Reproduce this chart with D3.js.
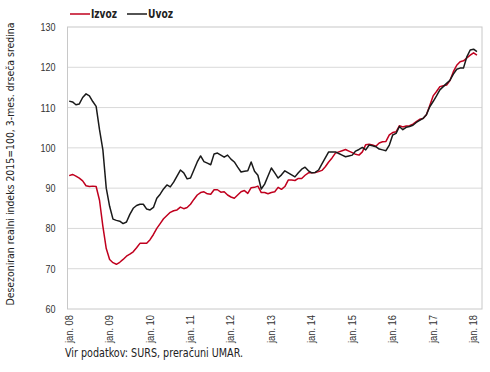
<!DOCTYPE html>
<html>
<head>
<meta charset="utf-8">
<script src="https://cdn.jsdelivr.net/npm/d3@7"></script>
<style>
  body { margin: 0; background: #fff; }
  svg { display: block; font-family: "DejaVu Sans Condensed", "Liberation Sans", sans-serif; }
</style>
</head>
<body>
<script>
'use strict';

// categories: one per month, jan 08 .. mar 18 (axis labelled only in January)
const years = ['08', '09', '10', '11', '12', '13', '14', '15', '16', '17', '18'];
const monthsInLastYear = 3;
const yTicks = [60, 70, 80, 90, 100, 110, 120, 130];

// Izvoz, monthly from jan 08
const izvoz = [
  93.1, 93.4, 93.0, 92.5, 91.8, 90.6, 90.4, 90.5, 90.4, 87.0, 80.5, 75.0,
  72.3, 71.5, 71.1, 71.6, 72.3, 73.1, 73.6, 74.2, 75.2, 76.3, 76.3, 76.3,
  77.2, 78.5, 80.0, 81.2, 82.4, 83.2, 84.0, 84.4, 84.6, 85.3, 84.9, 85.2,
  86.0, 87.2, 88.3, 88.9, 89.1, 88.6, 88.5, 89.6, 89.6, 89.0, 89.1, 88.3,
  87.8, 87.5, 88.3, 89.1, 89.4, 88.7, 90.1, 90.2, 90.5, 88.9, 88.9, 88.6,
  88.9, 89.1, 90.2, 89.7, 90.4, 92.0, 92.0, 91.9, 92.4, 92.4, 93.2, 93.8,
  93.8, 93.9, 94.1, 94.4, 95.3, 96.5, 97.5, 98.7, 99.0, 99.3, 99.6, 99.2,
  98.8, 98.4, 98.2, 99.0, 100.8, 100.9, 100.7, 100.4, 101.2, 101.5, 101.6, 103.2,
  103.8, 104.0, 105.5, 105.2, 105.4, 105.5, 105.9, 106.5, 107.1, 107.3, 108.2, 110.5,
  112.9, 114.0, 115.2, 115.4, 115.6, 116.7, 118.9, 120.5, 121.4, 121.6, 122.3, 123.0,
  123.6, 123.0
];

// Uvoz, monthly from jan 08
const uvoz = [
  111.6, 111.4, 110.7, 110.9, 112.5, 113.4, 112.9, 111.5, 110.3, 104.5, 99.5, 90.0,
  85.5, 82.3, 82.0, 81.8, 81.2, 81.6, 83.5, 85.0, 85.7, 86.0, 86.0, 84.8,
  84.6, 85.2, 87.5, 88.5, 89.8, 90.8, 90.3, 91.5, 93.0, 94.5, 93.8, 92.3,
  92.5, 94.5, 96.5, 98.0, 96.6, 96.2, 95.8, 98.5, 98.7, 98.2, 97.7, 98.2,
  97.2, 96.5, 95.2, 94.0, 94.2, 94.3, 96.5, 94.2, 93.2, 89.8, 91.0, 93.0,
  95.0, 93.8, 92.5, 93.3, 94.3, 93.8, 93.3, 92.8, 93.8, 94.7, 95.2, 94.3,
  93.8, 93.9, 94.5, 96.0, 97.5, 99.0, 99.0, 99.0, 98.6, 98.2, 97.8, 98.0,
  98.2, 99.2, 99.6, 100.1, 99.5, 100.7, 100.5, 100.3, 99.7, 99.5, 99.3, 100.7,
  103.2, 103.6, 105.3, 104.5, 105.1, 105.3, 105.6, 106.3, 106.8, 107.3, 108.2, 110.2,
  111.5, 112.9, 114.4, 115.2, 116.0, 116.8, 118.3, 119.5, 119.8, 119.8, 122.6, 124.3,
  124.5, 123.9
];

const seriesNames = ['Izvoz', 'Uvoz'];
const seriesColors = ['#c0001e', '#1a1a1a'];

const W = 490, H = 372;
const margin = { top: 27, right: 8, bottom: 63, left: 67.5 };
const iw = W - margin.left - margin.right;
const ih = H - margin.top - margin.bottom;

// month keys
const months = [];
years.forEach((yy, i) => {
  const n = i === years.length - 1 ? monthsInLastYear : 12;
  for (let m = 0; m < n; m++) months.push(yy + '-' + m);
});

const svg = d3.select('body').append('svg')
  .attr('width', W).attr('height', H);

const g = svg.append('g').attr('transform', `translate(${margin.left},${margin.top})`);

const x = d3.scaleBand().domain(months).range([0, iw]);
const y = d3.scaleLinear().domain([60, 130]).range([ih, 0]);

// grid
g.append('g').selectAll('line').data(yTicks.slice(1, -1)).join('line')
  .attr('x1', 0).attr('x2', iw)
  .attr('y1', d => y(d)).attr('y2', d => y(d))
  .attr('stroke', '#d9d9d9').attr('stroke-width', 1);

// plot border
g.append('rect')
  .attr('x', 0).attr('y', 0).attr('width', iw).attr('height', ih)
  .attr('fill', 'none').attr('stroke', '#c8c8c8').attr('stroke-width', 1);

// y axis
const yAxis = g.append('g').call(d3.axisLeft(y).tickValues(yTicks).tickSize(0).tickPadding(12));
yAxis.select('.domain').remove();
yAxis.selectAll('text').attr('font-size', 11).attr('fill', '#333')
  .attr('font-family', 'inherit')
  .attr('textLength', d => String(d).length * 5)
  .attr('lengthAdjust', 'spacingAndGlyphs');

// x axis: January ticks only
const janKeys = months.filter(k => k.endsWith('-0'));
const xAxis = g.append('g').attr('transform', `translate(0,${ih})`)
  .call(d3.axisBottom(x).tickValues(janKeys).tickSize(0)
    .tickFormat(k => 'jan. ' + k.split('-')[0]));
xAxis.select('.domain').remove();
xAxis.selectAll('text')
  .attr('font-size', 10).attr('fill', '#333').attr('font-family', 'inherit')
  .attr('transform', 'rotate(-90)')
  .attr('text-anchor', 'end')
  .attr('x', -6).attr('y', 0).attr('dy', '0.35em')
  .attr('textLength', 28).attr('lengthAdjust', 'spacingAndGlyphs');

// lines
const line = d3.line()
  .x((d, i) => x(months[i]) + x.bandwidth() / 2)
  .y(d => y(d));

[izvoz, uvoz].forEach((vals, i) => {
  g.append('path').datum(vals)
    .attr('fill', 'none')
    .attr('stroke', seriesColors[i])
    .attr('stroke-width', 1.5)
    .attr('stroke-linejoin', 'round')
    .attr('d', line);
});

// legend
const legendX = [70, 127];
const legendTextW = [26, 25];
seriesNames.forEach((name, i) => {
  const lg = svg.append('g').attr('transform', `translate(${legendX[i]},14)`);
  lg.append('line').attr('x1', 0).attr('x2', 20).attr('y1', 0).attr('y2', 0)
    .attr('stroke', seriesColors[i]).attr('stroke-width', 1.5);
  lg.append('text').attr('x', 21).attr('y', 4)
    .attr('font-size', 11.5).attr('font-weight', 'bold').attr('fill', '#222')
    .attr('textLength', legendTextW[i]).attr('lengthAdjust', 'spacingAndGlyphs')
    .text(name);
});

// y title
svg.append('text')
  .attr('transform', 'translate(14,164) rotate(-90)')
  .attr('text-anchor', 'middle')
  .attr('font-size', 11).attr('fill', '#222')
  .attr('textLength', 283).attr('lengthAdjust', 'spacingAndGlyphs')
  .text('Desezoniran realni indeks 2015=100, 3-mes. drseča sredina');

// source
svg.append('text')
  .attr('x', 65).attr('y', 357)
  .attr('font-size', 11.5).attr('fill', '#222')
  .attr('textLength', 178).attr('lengthAdjust', 'spacingAndGlyphs')
  .text('Vir podatkov: SURS, preračuni UMAR.');
</script>
</body>
</html>
